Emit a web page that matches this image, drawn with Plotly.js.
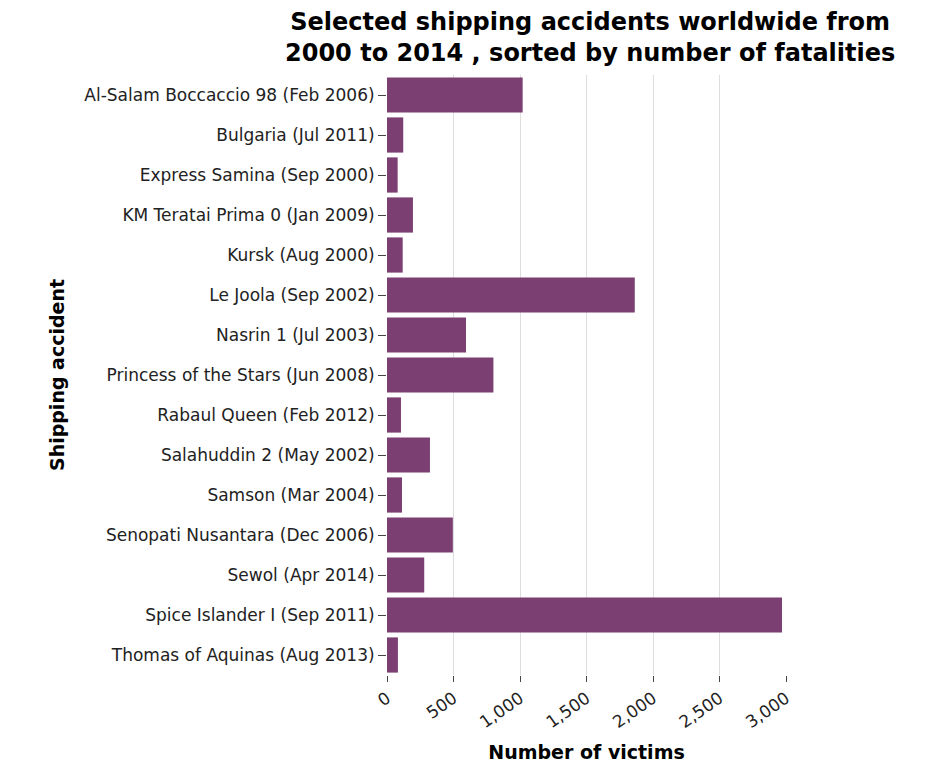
<!DOCTYPE html>
<html><head><meta charset="utf-8">
<script src="https://cdn.plot.ly/plotly-3.0.1.min.js"></script>
<style>body{margin:0}</style></head>
<body><div id="chart" style="width:928px;height:774px"></div>
<script>
const accidents = [
  "Al-Salam Boccaccio 98 (Feb 2006)", "Bulgaria (Jul 2011)", "Express Samina (Sep 2000)",
  "KM Teratai Prima 0 (Jan 2009)", "Kursk (Aug 2000)", "Le Joola (Sep 2002)",
  "Nasrin 1 (Jul 2003)", "Princess of the Stars (Jun 2008)", "Rabaul Queen (Feb 2012)",
  "Salahuddin 2 (May 2002)", "Samson (Mar 2004)", "Senopati Nusantara (Dec 2006)",
  "Sewol (Apr 2014)", "Spice Islander I (Sep 2011)", "Thomas of Aquinas (Aug 2013)"
];
const victims = [1020, 122, 80, 195, 118, 1863, 594, 800, 105, 323, 113, 495, 280, 2970, 82];

Plotly.newPlot("chart", [{
  type: "bar", orientation: "h", x: victims, y: accidents,
  marker: { color: "#7b3f72" }, hoverinfo: "x+y"
}], {
  width: 928, height: 774,
  font: { family: "DejaVu Sans, sans-serif", size: 17, color: "#222" },
  annotations: [{
    text: "<b>Selected shipping accidents worldwide from<br>2000 to 2014 , sorted by number of fatalities</b>",
    xref: "paper", yref: "paper", x: 0.51, y: 1.115, xanchor: "center", yanchor: "top",
    showarrow: false, font: { size: 24, color: "#000" }
  }],
  margin: { l: 387, r: 142, t: 75, b: 99 },
  bargap: 0.12,
  plot_bgcolor: "#fff", paper_bgcolor: "#fff",
  xaxis: {
    range: [0, 3000], dtick: 500, tickformat: ",d", tickangle: -35,
    showgrid: true, gridcolor: "#ddd", zeroline: false,
    ticks: "outside", ticklen: 6, tickcolor: "#444", showline: false,
    title: { text: "<b>Number of victims</b>", font: { size: 19, color: "#000" }, standoff: 14 }
  },
  yaxis: {
    autorange: "reversed", ticks: "outside", ticklen: 8, tickcolor: "#444",
    showline: false, showgrid: false,
    title: { text: "<b>Shipping accident</b>", font: { size: 19, color: "#000" }, standoff: 14 }
  }
}, { displayModeBar: false });
</script></body></html>
